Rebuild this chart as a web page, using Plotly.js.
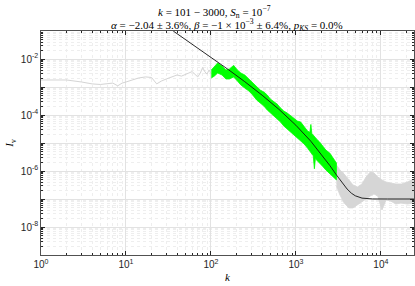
<!DOCTYPE html>
<html>
<head>
<meta charset="utf-8">
<script src="https://cdn.plot.ly/plotly-3.0.1.min.js"></script>
<style>html,body{margin:0;padding:0;background:#fff;}#chart{width:415px;height:286px;}</style>
</head>
<body>
<div id="chart"></div>
<script>
// Gray spectrum, low-k part (k = 1 .. 101)
const kGrayLow = [1,2,3,4,5,6,7,8,9,10,12,14,17,20,23,26,30,35,40,45,50,55,60,65,70,75,80,85,90,95,101];
const iGrayLow = [1.78e-3,1.78e-3,1.51e-3,1.29e-3,1.23e-3,1.29e-3,1.38e-3,1.10e-3,1.38e-3,1.51e-3,1.78e-3,2.09e-3,2.29e-3,2.19e-3,1.29e-3,1.62e-3,1.95e-3,2.29e-3,2.69e-3,2.45e-3,2.88e-3,3.16e-3,3.55e-3,2.88e-3,2.29e-3,3.16e-3,5.0e-3,3.47e-3,2.88e-3,4.07e-3,2.88e-3];

// Fitted range k = 101 .. 3000 (green): upper / lower envelope of the noisy data
const kGreen = [101,110,120,135,150,165,185,205,225,250,280,310,345,380,420,460,500,550,600,660,720,790,870,950,1040,1140,1250,1370,1460,1500,1540,1600,1650,1700,1750,1900,2050,2250,2500,2750,3000];
const iGreenHi = [4.05e-3,5.6e-3,7.2e-3,5.6e-3,4.05e-3,4.4e-3,5.9e-3,4.05e-3,3.16e-3,2.69e-3,1.93e-3,1.39e-3,1.09e-3,7.8e-4,6.6e-4,5.2e-4,3.72e-4,2.91e-4,2.47e-4,1.78e-4,1.39e-4,1.18e-4,9.2e-5,7.2e-5,6.1e-5,5.6e-5,3.72e-5,2.69e-5,2.4e-5,4.6e-5,2.2e-5,1.93e-5,1.6e-5,1.5e-5,1.39e-5,1.09e-5,7.8e-6,5.6e-6,4.4e-6,2.91e-6,1.93e-6];
const iGreenLo = [2.09e-3,2.47e-3,3.16e-3,2.69e-3,1.93e-3,1.93e-3,2.28e-3,1.64e-3,1.18e-3,9.2e-4,7.2e-4,5.2e-4,3.44e-4,2.69e-4,2.09e-4,1.51e-4,1.18e-4,9.2e-5,7.2e-5,5.6e-5,4.05e-5,3.16e-5,2.47e-5,1.93e-5,1.51e-5,1.18e-5,9.2e-6,6.6e-6,5.4e-6,4.8e-6,4.2e-6,3.5e-6,1.2e-6,3.0e-6,2.47e-6,1.93e-6,1.51e-6,1.09e-6,7.8e-7,6.1e-7,4.8e-7];

// Gray spectrum, high-k tail (k = 3000 .. 24500): envelope
const kGrayHi = [3000,3300,3700,4200,4700,5300,6000,6700,7500,8300,9200,10300,11500,13000,15000,17500,20500,24500];
const iGrayHiUp = [1.64e-6,1.09e-6,7.8e-7,4.8e-7,3.16e-7,2.69e-7,3.44e-7,6.1e-7,9.2e-7,8.5e-7,6.1e-7,4.8e-7,4.05e-7,3.72e-7,3.44e-7,3.44e-7,4.05e-7,5.2e-7];
const iGrayHiLo = [2.91e-7,1.39e-7,7.2e-8,4.8e-8,4.8e-8,6.1e-8,7.8e-8,1.0e-7,1.28e-7,1.51e-7,1.28e-7,4.05e-8,9.2e-8,8.5e-8,6.6e-8,7.2e-8,6.6e-8,7.2e-8];

// Fitted model curve
const kFit = [36,60,100,160,250,400,630,1000,1500,2000,2500,3000,3500,4000,4500,5000,6000,7000,8000,12000,24500];
const iFit = [0.1,3.44e-2,1.17e-2,4.2e-3,1.55e-3,5.1e-4,1.6e-4,4.3e-5,1.15e-5,3.87e-6,1.59e-6,7.2e-7,3.76e-7,2.28e-7,1.61e-7,1.30e-7,1.076e-7,1.02e-7,1.005e-7,1.0e-7,1.0e-7];

// Tick labels and title lines
const xTickVals = [1,10,100,1000,10000];
const xTickText = ['10<sup>0</sup>','10<sup>1</sup>','10<sup>2</sup>','10<sup>3</sup>','10<sup>4</sup>'];
const yTickVals = [1e-9,1e-8,1e-7,1e-6,1e-5,1e-4,1e-3,1e-2,1e-1];
const yTickText = [' ','10<sup>-8</sup>',' ','10<sup>-6</sup>',' ','10<sup>-4</sup>',' ','10<sup>-2</sup>',' '];
const titleLine1 = '<i>k</i> = 101 − 3000, <i>S</i><sub>n</sub> = 10<sup>−7</sup>';
const titleLine2 = '<i>α</i> = −2.04 ± 3.6%, <i>β</i> = −1 × 10<sup>−3</sup> ± 6.4%, <i>p</i><sub><i>KS</i></sub> = 0.0%';

function minorLog(lo, hi) {
  const out = [];
  for (let e = lo; e < hi; e++) for (let m = 2; m <= 9; m++) out.push(m * Math.pow(10, e));
  return out;
}
function band(k, hi, lo) {
  return { x: k.concat(k.slice().reverse()), y: hi.concat(lo.slice().reverse()) };
}

const gB = band(kGreen, iGreenHi, iGreenLo);
const tB = band(kGrayHi, iGrayHiUp, iGrayHiLo);

const traces = [
  { x: kGrayLow, y: iGrayLow, mode: 'lines', line: { color: '#d4d4d4', width: 1 }, hoverinfo: 'skip' },
  { x: tB.x, y: tB.y, mode: 'lines', fill: 'toself', fillcolor: '#d6d6d6', line: { color: '#d6d6d6', width: 0.8 }, hoverinfo: 'skip' },
  { x: gB.x, y: gB.y, mode: 'lines', fill: 'toself', fillcolor: '#00ff00', line: { color: '#00ff00', width: 0.8 }, hoverinfo: 'skip' },
  { x: kFit, y: iFit, mode: 'lines', line: { color: '#111111', width: 0.9 }, hoverinfo: 'skip' }
];

const axisCommon = {
  type: 'log',
  tickmode: 'array',
  ticks: 'inside',
  ticklen: 4,
  tickcolor: '#262626',
  mirror: 'allticks',
  showline: true,
  linecolor: '#262626',
  linewidth: 0.8,
  showgrid: true,
  gridcolor: '#e2e2e2',
  gridwidth: 1,
  zeroline: false,
  tickfont: { family: 'Liberation Sans, Arial, sans-serif', size: 10, color: '#262626' }
};
const minorCommon = { tickmode: 'array', ticks: 'inside', ticklen: 2, tickcolor: '#262626', showgrid: true, gridcolor: '#eeeeee', griddash: 'dot', gridwidth: 1 };

const titleFont = { family: 'Liberation Serif, Times New Roman, serif', size: 11, color: '#000' };

const layout = {
  width: 415, height: 286,
  margin: { l: 41, r: 1, t: 31, b: 31, pad: 0 },
  paper_bgcolor: '#ffffff', plot_bgcolor: '#ffffff',
  showlegend: false,
  title: { text: '' },
  annotations: [
    { text: titleLine1, xref: 'paper', yref: 'paper', x: 0.464, y: 1 + 19 / 224, xanchor: 'center', yanchor: 'middle', showarrow: false, borderpad: 0, font: titleFont },
    { text: titleLine2, xref: 'paper', yref: 'paper', x: 0.499, y: 1 + 6 / 224, xanchor: 'center', yanchor: 'middle', showarrow: false, borderpad: 0, font: titleFont }
  ],
  xaxis: Object.assign({}, axisCommon, {
    range: [0, 4.39],
    tickvals: xTickVals, ticktext: xTickText,
    minor: Object.assign({ tickvals: minorLog(0, 5) }, minorCommon),
    title: { text: '<i>k</i>', standoff: 4, font: { family: 'Liberation Serif, serif', size: 11, color: '#000' } }
  }),
  yaxis: Object.assign({}, axisCommon, {
    range: [-9, -1],
    tickvals: yTickVals, ticktext: yTickText,
    minor: Object.assign({ tickvals: minorLog(-9, -1) }, minorCommon),
    title: { text: '<i>I</i><sub>v</sub>', standoff: 4, font: { family: 'Liberation Serif, serif', size: 11, color: '#000' } }
  })
};

Plotly.newPlot('chart', traces, layout, { staticPlot: true, displayModeBar: false });
</script>
</body>
</html>
